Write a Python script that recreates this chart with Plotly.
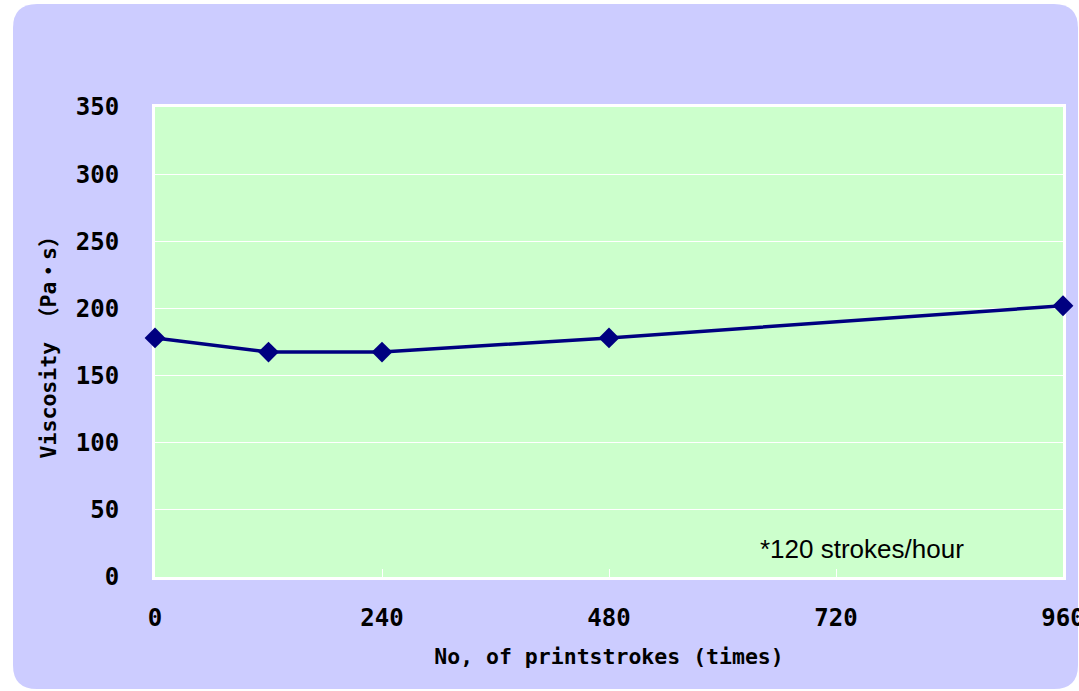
import plotly.graph_objects as go

strokes = [0, 120, 240, 480, 960]
viscosity = [178, 167.5, 167.5, 178, 202]
x_ticks = [0, 240, 480, 720, 960]
y_ticks = [0, 50, 100, 150, 200, 250, 300, 350]

W, H = 1079, 691
L, R, T, B = 155, 16, 107, 114
pw, ph = W - L - R, H - T - B

def px(x):
    return (x - L) / pw

def py(y):
    return (H - B - y) / ph

# rounded background box (pixel geometry -> paper coords)
bx0, by0, bx1, by1, r = 13, 4, 1078, 689, 24
path = (
    f"M {px(bx0 + r)} {py(by0)} "
    f"L {px(bx1 - r)} {py(by0)} Q {px(bx1)} {py(by0)} {px(bx1)} {py(by0 + r)} "
    f"L {px(bx1)} {py(by1 - r)} Q {px(bx1)} {py(by1)} {px(bx1 - r)} {py(by1)} "
    f"L {px(bx0 + r)} {py(by1)} Q {px(bx0)} {py(by1)} {px(bx0)} {py(by1 - r)} "
    f"L {px(bx0)} {py(by0 + r)} Q {px(bx0)} {py(by0)} {px(bx0 + r)} {py(by0)} Z"
)

tick_font = dict(family="DejaVu Sans Mono, Noto Sans CJK JP", size=24, color="black", weight="bold")
title_font = dict(family="DejaVu Sans Mono, Noto Sans CJK JP", size=21.5, color="black", weight="bold")

fig = go.Figure()
fig.add_trace(go.Scatter(
    x=strokes, y=viscosity, mode="lines+markers",
    line=dict(color="#000080", width=3.5),
    marker=dict(symbol="diamond", size=16, color="#000080"),
    cliponaxis=False, showlegend=False,
))

fig.add_shape(type="path", path=path, xref="paper", yref="paper",
              fillcolor="#CCCCFF", line=dict(width=0), layer="below")
fig.add_shape(type="rect", x0=0, x1=1, y0=0, y1=1, xref="paper", yref="paper",
              fillcolor="#CCFFCC", line=dict(width=0), layer="below")

fig.add_annotation(text="*120 strokes/hour", x=747, y=0, xref="x", yref="paper",
                   xanchor="center", yanchor="middle", yshift=28, showarrow=False,
                   font=dict(family="Liberation Sans", size=26, color="black"))

fig.update_layout(
    width=W, height=H,
    margin=dict(l=L, r=R, t=T, b=B, autoexpand=False),
    paper_bgcolor="white", plot_bgcolor="#CCFFCC",
    xaxis=dict(range=[0, 960], tickvals=x_ticks, ticktext=[str(v) for v in x_ticks],
               showgrid=False, zeroline=False, showline=True, linecolor="white",
               linewidth=3, mirror=True, ticks="inside", tickcolor="white", ticklen=8,
               tickwidth=1, tickfont=tick_font, ticklabelstandoff=17,
               ticklabeloverflow="allow", layer="below traces", automargin=False,
               title=dict(text="No, of printstrokes (times)", font=title_font, standoff=19)),
    yaxis=dict(range=[0, 350], tickvals=y_ticks, showgrid=True, gridcolor="white",
               gridwidth=1, zeroline=False, showline=True, linecolor="white",
               linewidth=3, mirror=True, ticks="", tickfont=tick_font,
               ticklabelstandoff=28, layer="below traces", automargin=False,
               title=dict(text="Viscosity （Pa・s）", font=title_font, standoff=14)),
)

fig.write_html(
    "out.html", config={"displayModeBar": False},
    post_script=(
        "document.documentElement.style.overflow='hidden';"
        "document.body.style.margin='0';document.body.style.overflow='hidden';"
    ),
)
